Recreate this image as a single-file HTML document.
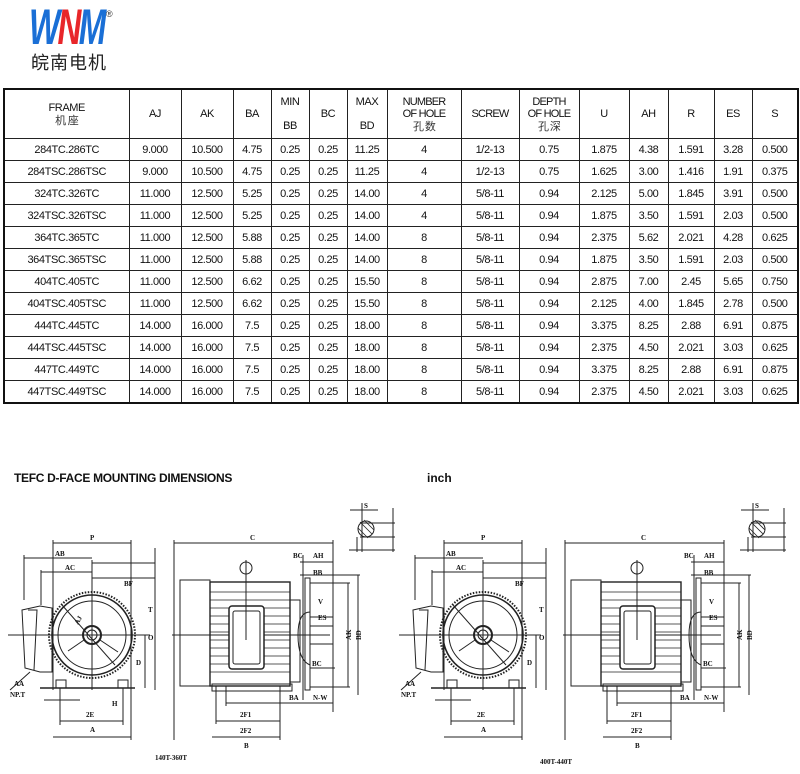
<!DOCTYPE html>
<html><head><meta charset="utf-8">
<style>
html,body{margin:0;padding:0;background:#fff;}
body{width:800px;height:774px;position:relative;overflow:hidden;font-family:"Liberation Sans","Noto Sans CJK SC",sans-serif;color:#111;}
.logo{position:absolute;left:29px;top:2px;font-family:"Liberation Sans",sans-serif;font-weight:bold;font-style:italic;font-size:50px;letter-spacing:-4px;line-height:50px;transform:scaleX(0.66);transform-origin:left top;}
.logo .b{color:#1a6fd6}.logo .r{color:#e8262a}
.reg{position:absolute;left:106px;top:9px;font-size:9px;color:#333;font-family:"Liberation Sans",sans-serif;}
.cn{position:absolute;left:31px;top:49px;font-family:"Noto Sans CJK SC",sans-serif;font-size:18px;letter-spacing:1px;color:#222;}
table{position:absolute;left:3px;top:88px;border-collapse:collapse;table-layout:fixed;width:794px;border:2px solid #111;}
td{border:1px solid #222;text-align:center;font-size:11px;letter-spacing:-0.4px;padding:0;height:21px;line-height:12px;white-space:nowrap;overflow:hidden;}
tr.h td{height:48px;font-size:11px;}
.sm{font-size:10px;letter-spacing:-0.8px;}
.cj{font-family:"Noto Sans CJK SC",sans-serif;font-size:11px;color:#333;}
.t1{position:absolute;left:14px;top:471px;font-family:"Liberation Sans",sans-serif;font-weight:bold;font-size:12px;letter-spacing:-0.3px;}
.t2{position:absolute;left:427px;top:471px;font-family:"Liberation Sans",sans-serif;font-weight:bold;font-size:12px;}
svg{position:absolute;left:0;top:0;}
</style></head><body>
<div class="logo"><span class="b">W</span><span class="r">N</span><span class="b">M</span></div>
<div class="reg">®</div>
<div class="cn">皖南电机</div>
<table>
<colgroup><col style="width:125px"><col style="width:52px"><col style="width:52px"><col style="width:38px"><col style="width:38px"><col style="width:38px"><col style="width:40px"><col style="width:74px"><col style="width:58px"><col style="width:60px"><col style="width:50px"><col style="width:39px"><col style="width:46px"><col style="width:38px"><col style="width:46px"></colgroup>
<tr class="h"><td>FRAME<br><span class="cj">机 座</span></td><td>AJ</td><td>AK</td><td>BA</td><td>MIN<br><br>BB</td><td>BC</td><td>MAX<br><br>BD</td><td class="sm">NUMBER<br>OF HOLE<br><span class="cj">孔 数</span></td><td class="sm">SCREW</td><td class="sm">DEPTH<br>OF HOLE<br><span class="cj">孔 深</span></td><td>U</td><td>AH</td><td>R</td><td>ES</td><td>S</td></tr>
<tr><td>284TC.286TC</td><td>9.000</td><td>10.500</td><td>4.75</td><td>0.25</td><td>0.25</td><td>11.25</td><td>4</td><td>1/2-13</td><td>0.75</td><td>1.875</td><td>4.38</td><td>1.591</td><td>3.28</td><td>0.500</td></tr>
<tr><td>284TSC.286TSC</td><td>9.000</td><td>10.500</td><td>4.75</td><td>0.25</td><td>0.25</td><td>11.25</td><td>4</td><td>1/2-13</td><td>0.75</td><td>1.625</td><td>3.00</td><td>1.416</td><td>1.91</td><td>0.375</td></tr>
<tr><td>324TC.326TC</td><td>11.000</td><td>12.500</td><td>5.25</td><td>0.25</td><td>0.25</td><td>14.00</td><td>4</td><td>5/8-11</td><td>0.94</td><td>2.125</td><td>5.00</td><td>1.845</td><td>3.91</td><td>0.500</td></tr>
<tr><td>324TSC.326TSC</td><td>11.000</td><td>12.500</td><td>5.25</td><td>0.25</td><td>0.25</td><td>14.00</td><td>4</td><td>5/8-11</td><td>0.94</td><td>1.875</td><td>3.50</td><td>1.591</td><td>2.03</td><td>0.500</td></tr>
<tr><td>364TC.365TC</td><td>11.000</td><td>12.500</td><td>5.88</td><td>0.25</td><td>0.25</td><td>14.00</td><td>8</td><td>5/8-11</td><td>0.94</td><td>2.375</td><td>5.62</td><td>2.021</td><td>4.28</td><td>0.625</td></tr>
<tr><td>364TSC.365TSC</td><td>11.000</td><td>12.500</td><td>5.88</td><td>0.25</td><td>0.25</td><td>14.00</td><td>8</td><td>5/8-11</td><td>0.94</td><td>1.875</td><td>3.50</td><td>1.591</td><td>2.03</td><td>0.500</td></tr>
<tr><td>404TC.405TC</td><td>11.000</td><td>12.500</td><td>6.62</td><td>0.25</td><td>0.25</td><td>15.50</td><td>8</td><td>5/8-11</td><td>0.94</td><td>2.875</td><td>7.00</td><td>2.45</td><td>5.65</td><td>0.750</td></tr>
<tr><td>404TSC.405TSC</td><td>11.000</td><td>12.500</td><td>6.62</td><td>0.25</td><td>0.25</td><td>15.50</td><td>8</td><td>5/8-11</td><td>0.94</td><td>2.125</td><td>4.00</td><td>1.845</td><td>2.78</td><td>0.500</td></tr>
<tr><td>444TC.445TC</td><td>14.000</td><td>16.000</td><td>7.5</td><td>0.25</td><td>0.25</td><td>18.00</td><td>8</td><td>5/8-11</td><td>0.94</td><td>3.375</td><td>8.25</td><td>2.88</td><td>6.91</td><td>0.875</td></tr>
<tr><td>444TSC.445TSC</td><td>14.000</td><td>16.000</td><td>7.5</td><td>0.25</td><td>0.25</td><td>18.00</td><td>8</td><td>5/8-11</td><td>0.94</td><td>2.375</td><td>4.50</td><td>2.021</td><td>3.03</td><td>0.625</td></tr>
<tr><td>447TC.449TC</td><td>14.000</td><td>16.000</td><td>7.5</td><td>0.25</td><td>0.25</td><td>18.00</td><td>8</td><td>5/8-11</td><td>0.94</td><td>3.375</td><td>8.25</td><td>2.88</td><td>6.91</td><td>0.875</td></tr>
<tr><td>447TSC.449TSC</td><td>14.000</td><td>16.000</td><td>7.5</td><td>0.25</td><td>0.25</td><td>18.00</td><td>8</td><td>5/8-11</td><td>0.94</td><td>2.375</td><td>4.50</td><td>2.021</td><td>3.03</td><td>0.625</td></tr>
</table>
<div class="t1">TEFC D-FACE MOUNTING DIMENSIONS</div>
<div class="t2">inch</div>
<svg width="800" height="774" viewBox="0 0 800 774">
<defs>
<g id="mot" fill="none" stroke="#222" stroke-width="1">
 <line x1="53" y1="543" x2="131" y2="543"/><line x1="53" y1="540" x2="53" y2="690"/><line x1="131" y1="540" x2="131" y2="740"/>
 <line x1="24" y1="558" x2="92" y2="558"/><line x1="24" y1="555" x2="24" y2="600"/>
 <line x1="41" y1="572" x2="92" y2="572"/><line x1="41" y1="570" x2="41" y2="605"/>
 <line x1="92" y1="560" x2="92" y2="690"/>
 <line x1="92" y1="563" x2="155" y2="563"/><line x1="92" y1="578" x2="155" y2="578"/>
 <line x1="155" y1="548" x2="155" y2="690"/>
 <line x1="8" y1="635" x2="150" y2="635"/>
 <line x1="145" y1="635" x2="145" y2="688"/>
 <circle cx="92" cy="635" r="40" stroke-width="1.6"/>
 <circle cx="92" cy="635" r="43" stroke-dasharray="1.5 1.5" stroke-width="2"/>
 <circle cx="92" cy="635" r="34"/>
 <circle cx="92" cy="635" r="9" stroke-width="2"/><circle cx="92" cy="635" r="5"/>
 <line x1="92" y1="626" x2="92" y2="595"/><line x1="84" y1="640" x2="68" y2="651"/><line x1="100" y1="640" x2="118" y2="652"/>
 <line x1="62" y1="605" x2="115" y2="665"/>
 <path d="M22,610 L40,606 L52,608 L52,672 L40,672 L25,668 Z"/>
 <path d="M28,610 L37,610 L34,670"/>
 <path d="M30,672 L10,690"/>
 <line x1="40" y1="688" x2="135" y2="688" stroke-width="1.5"/>
 <rect x="56" y="680" width="10" height="8"/><rect x="118" y="680" width="10" height="8"/>
 <line x1="60" y1="688" x2="60" y2="725"/><line x1="123" y1="688" x2="123" y2="725"/>
 <line x1="60" y1="721" x2="123" y2="721"/><line x1="53" y1="737" x2="131" y2="737"/>
 <line x1="44" y1="700" x2="80" y2="700"/>
 <line x1="174" y1="543" x2="333" y2="543"/><line x1="174" y1="540" x2="174" y2="740"/><line x1="333" y1="540" x2="333" y2="712"/>
 <line x1="172" y1="635" x2="330" y2="635"/>
 <rect x="180" y="580" width="30" height="106"/>
 <rect x="210" y="582" width="80" height="104" stroke-width="1.4"/>
 <g stroke-width="0.8">
 <line x1="210" y1="592" x2="290" y2="592"/><line x1="210" y1="600" x2="290" y2="600"/>
 <line x1="210" y1="608" x2="290" y2="608"/><line x1="210" y1="616" x2="290" y2="616"/>
 <line x1="210" y1="624" x2="290" y2="624"/><line x1="210" y1="632" x2="290" y2="632"/>
 <line x1="210" y1="640" x2="290" y2="640"/><line x1="210" y1="648" x2="290" y2="648"/>
 <line x1="210" y1="656" x2="290" y2="656"/><line x1="210" y1="664" x2="290" y2="664"/>
 <line x1="210" y1="672" x2="290" y2="672"/></g>
 <rect x="229" y="606" width="35" height="63" rx="3" fill="#fff" stroke-width="1.5"/>
 <rect x="233" y="611" width="27" height="53" rx="2"/>
 <circle cx="246" cy="568" r="6"/><line x1="246" y1="560" x2="246" y2="640"/>
 <rect x="212" y="684" width="80" height="7"/>
 <rect x="290" y="600" width="10" height="82"/>
 <rect x="305" y="578" width="5" height="112"/>
 <path d="M310,612 Q298,612 298,635 Q298,660 310,665"/>
 <rect x="310" y="626" width="23" height="18"/>
 <line x1="300" y1="575" x2="360" y2="575"/><line x1="310" y1="583" x2="350" y2="583"/><line x1="310" y1="687" x2="350" y2="687"/>
 <line x1="348" y1="583" x2="348" y2="687"/><line x1="358" y1="575" x2="358" y2="695"/>
 <line x1="300" y1="562" x2="333" y2="562"/><line x1="303" y1="555" x2="303" y2="700"/>
 <line x1="226" y1="703" x2="333" y2="703"/><line x1="216" y1="721" x2="280" y2="721"/><line x1="212" y1="737" x2="280" y2="737"/>
 <line x1="280" y1="686" x2="280" y2="740"/><line x1="226" y1="686" x2="226" y2="706"/><line x1="216" y1="686" x2="216" y2="724"/>
 <line x1="310" y1="617" x2="333" y2="617"/><line x1="310" y1="668" x2="335" y2="668"/>
 <line x1="350" y1="510" x2="378" y2="510"/><line x1="362" y1="503" x2="362" y2="552"/>
 <circle cx="366" cy="529" r="8"/><path d="M360,522 L372,534 M358,528 L368,538 M364,520 L374,530" stroke-width="0.8"/>
 <line x1="360" y1="523" x2="395" y2="523"/><line x1="360" y1="537" x2="395" y2="537"/>
 <line x1="349" y1="550" x2="395" y2="550"/><line x1="393" y1="508" x2="393" y2="552"/><line x1="357" y1="537" x2="357" y2="552"/>
</g>
</defs>
<use href="#mot"/>
<use href="#mot" transform="translate(391,0)"/>
<g font-family="Liberation Serif,serif" font-size="7" font-weight="bold" fill="#111">
 <text x="90" y="540">P</text><text x="55" y="556">AB</text><text x="65" y="570">AC</text><text x="124" y="586">BF</text>
 <text x="78" y="625" transform="rotate(-60 78 625)">AJ</text><text x="148" y="612">T</text><text x="148" y="640">O</text><text x="136" y="665">D</text>
 <text x="14" y="686">AA</text><text x="10" y="697">NP.T</text><text x="86" y="717">2E</text><text x="90" y="732">A</text><text x="112" y="706">H</text>
 <text x="250" y="540">C</text><text x="293" y="558">BC</text><text x="313" y="558">AH</text><text x="313" y="575">BB</text><text x="318" y="604">V</text><text x="318" y="620">ES</text><text x="312" y="666">BC</text>
 <text x="351" y="640" transform="rotate(-90 351 640)">AK</text><text x="361" y="640" transform="rotate(-90 361 640)">BD</text>
 <text x="240" y="717">2F1</text><text x="240" y="733">2F2</text><text x="244" y="748">B</text><text x="289" y="700">BA</text><text x="313" y="700">N-W</text>
 <text x="364" y="508">S</text>
 <text x="155" y="760">140T-360T</text>
 <text x="481" y="540">P</text><text x="446" y="556">AB</text><text x="456" y="570">AC</text><text x="515" y="586">BF</text>
 <text x="539" y="612">T</text><text x="539" y="640">O</text><text x="527" y="665">D</text>
 <text x="405" y="686">AA</text><text x="401" y="697">NP.T</text><text x="477" y="717">2E</text><text x="481" y="732">A</text>
 <text x="641" y="540">C</text><text x="684" y="558">BC</text><text x="704" y="558">AH</text><text x="704" y="575">BB</text><text x="709" y="604">V</text><text x="709" y="620">ES</text><text x="703" y="666">BC</text>
 <text x="742" y="640" transform="rotate(-90 742 640)">AK</text><text x="752" y="640" transform="rotate(-90 752 640)">BD</text>
 <text x="631" y="717">2F1</text><text x="631" y="733">2F2</text><text x="635" y="748">B</text><text x="680" y="700">BA</text><text x="704" y="700">N-W</text>
 <text x="755" y="508">S</text>
 <text x="540" y="764">400T-440T</text>
</g>
</svg>
</body></html>
